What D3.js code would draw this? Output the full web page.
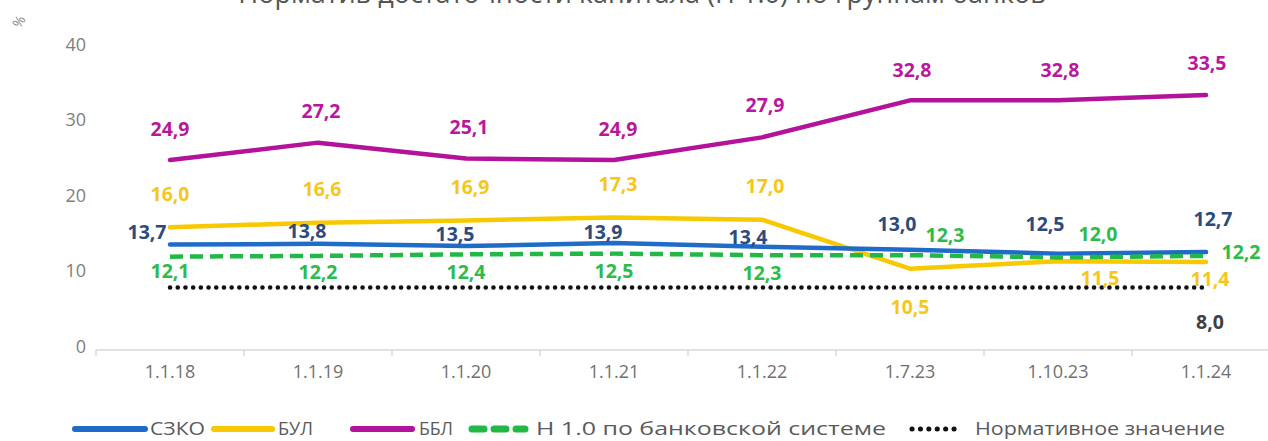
<!DOCTYPE html>
<html>
<head>
<meta charset="utf-8">
<script src="https://cdn.jsdelivr.net/npm/d3@7"></script>
<style>
  body { margin: 0; background: #fff; }
  svg { display: block; font-family: "Open Sans", "DejaVu Sans", sans-serif; }
</style>
</head>
<body>
<svg id="chart" width="1268" height="441"></svg>
<script>
const title = 'Норматив достаточности капитала (Н 1.0) по группам банков';
const categories = ['1.1.18', '1.1.19', '1.1.20', '1.1.21', '1.1.22', '1.7.23', '1.10.23', '1.1.24'];
const szko = [13.7, 13.8, 13.5, 13.9, 13.4, 13.0, 12.5, 12.7];
const bul = [16.0, 16.6, 16.9, 17.3, 17.0, 10.5, 11.5, 11.4];
const bbl = [24.9, 27.2, 25.1, 24.9, 27.9, 32.8, 32.8, 33.5];
const system = [12.1, 12.2, 12.4, 12.5, 12.3, 12.3, 12.0, 12.2];
const norm = [8, 8, 8, 8, 8, 8, 8, 8];
const yTicks = [0, 10, 20, 30, 40];
const seriesNames = ['СЗКО', 'БУЛ', 'ББЛ', 'Н 1.0 по банковской системе', 'Нормативное значение'];

// label offsets (dx, dy) per point, relative to the data point
const offs = {
  szko: [[-23, -13], [-11, -13], [-11, -13], [-11, -12], [-14, -10], [-13, -26], [-13, -30], [7, -34]],
  bul: [[0, -34], [4, -34], [4, -34], [4, -34], [3, -34], [0, 38], [42, 16], [4, 17]],
  bbl: [[0, -32], [3, -32], [3, -32], [4, -32], [3, -33], [2, -31], [2, -31], [1, -33]],
  system: [[0, 14], [0, 16], [0, 17], [0, 17], [0, 17], [35, -21], [40, -24], [35, -4]],
  norm: [null, null, null, null, null, null, null, [4, 34]]
};

const svg = d3.select('#chart');

const x = d3.scaleBand().domain(categories).range([96, 1280]);
const cx = c => x(c) + x.bandwidth() / 2;
const y = d3.scaleLinear().domain([0, 40]).range([348, 46]);

// title (cut at top)
svg.append('text')
  .attr('x', 642).attr('y', 3)
  .attr('text-anchor', 'middle')
  .attr('font-size', 27)
  .attr('fill', '#555')
  .text(title);

svg.append('text')
  .attr('transform', 'translate(20,22) rotate(-60)')
  .attr('text-anchor', 'middle')
  .attr('dominant-baseline', 'middle')
  .attr('font-size', 14)
  .attr('fill', '#888')
  .text('%');

// y tick labels
svg.append('g').selectAll('text')
  .data(yTicks).enter().append('text')
  .attr('x', 86).attr('y', d => y(d))
  .attr('text-anchor', 'end')
  .attr('dominant-baseline', 'middle')
  .attr('font-size', 18)
  .attr('fill', '#808080')
  .text(d => d);

// x axis
const ax = svg.append('g');
ax.append('line')
  .attr('x1', x.range()[0]).attr('x2', x.range()[1])
  .attr('y1', 350).attr('y2', 350)
  .attr('stroke', '#d9d9d9').attr('stroke-width', 1.5);
const bounds = categories.map(c => x(c)).concat([x.range()[1]]);
ax.selectAll('line.tk')
  .data(bounds).enter().append('line')
  .attr('class', 'tk')
  .attr('x1', d => d).attr('x2', d => d)
  .attr('y1', 350).attr('y2', 356)
  .attr('stroke', '#d9d9d9').attr('stroke-width', 1.5);
ax.selectAll('text')
  .data(categories).enter().append('text')
  .attr('x', d => cx(d)).attr('y', 378)
  .attr('text-anchor', 'middle')
  .attr('font-size', 18)
  .attr('fill', '#707070')
  .text(d => d);

const series = [
  { key: 'norm', values: norm, color: '#111', width: 4.5, dash: '0.1 7.6', cap: 'round', label: '#404040' },
  { key: 'system', values: system, color: '#22b845', width: 4.5, dash: '13 7', cap: 'butt', label: '#2dbb4a' },
  { key: 'szko', values: szko, color: '#1f6cc8', width: 4.5, dash: null, cap: 'round', label: '#2c4a7e' },
  { key: 'bul', values: bul, color: '#f8c800', width: 4.5, dash: null, cap: 'round', label: '#f6c71a' },
  { key: 'bbl', values: bbl, color: '#b3139a', width: 4.5, dash: null, cap: 'round', label: '#b8189d' }
];

const line = d3.line().x(d => cx(d[0])).y(d => y(d[1]));

const order = ['szko', 'bul', 'bbl', 'system', 'norm'];
['bbl', 'bul', 'szko', 'system', 'norm'].forEach(k => {
  const s = series.find(d => d.key === k);
  svg.append('path')
    .datum(categories.map((c, i) => [c, s.values[i]]))
    .attr('d', line)
    .attr('fill', 'none')
    .attr('stroke', s.color)
    .attr('stroke-width', s.width)
    .attr('stroke-linecap', s.cap)
    .attr('stroke-linejoin', 'round')
    .attr('stroke-dasharray', s.dash);
});

// value labels
const fmt = v => v.toFixed(1).replace('.', ',');
series.forEach(s => {
  const pts = categories.map((c, i) => ({ c, v: s.values[i], o: offs[s.key][i] })).filter(d => d.o);
  svg.append('g').selectAll('text')
    .data(pts).enter().append('text')
    .attr('x', d => cx(d.c) + d.o[0])
    .attr('y', d => y(d.v) + d.o[1])
    .attr('text-anchor', 'middle')
    .attr('dominant-baseline', 'central')
    .attr('font-size', 19.5)
    .attr('font-weight', 700)
    .attr('fill', s.label)
    .text(d => fmt(d.v));
});

// legend
const legendItems = [
  { key: 'szko', x0: 75, x1: 145, tx: 150, w: 55 },
  { key: 'bul', x0: 214, x1: 272, tx: 278, w: 35 },
  { key: 'bbl', x0: 353, x1: 412, tx: 419, w: 34 },
  { key: 'system', x0: 472, x1: 525, tx: 536, w: 350 },
  { key: 'norm', x0: 912, x1: 962, tx: 975, w: 250 }
];
const lg = svg.append('g');
legendItems.forEach(it => {
  const s = series.find(d => d.key === it.key);
  const idx = order.indexOf(it.key);
  let dash = null, cap = 'round', w = 6;
  if (it.key === 'system') { dash = '12 10'; w = 7; }
  if (it.key === 'norm') { dash = '0.1 8.3'; w = 5; }
  lg.append('line')
    .attr('x1', it.x0).attr('x2', it.x1)
    .attr('y1', 429).attr('y2', 429)
    .attr('stroke', s.color)
    .attr('stroke-width', w)
    .attr('stroke-linecap', cap)
    .attr('stroke-dasharray', dash);
  lg.append('text')
    .attr('x', it.tx).attr('y', 428)
    .attr('dominant-baseline', 'central')
    .attr('font-size', 19)
    .attr('textLength', it.w)
    .attr('lengthAdjust', 'spacingAndGlyphs')
    .attr('fill', '#5a5a5a')
    .text(seriesNames[idx]);
});
</script>
</body>
</html>
